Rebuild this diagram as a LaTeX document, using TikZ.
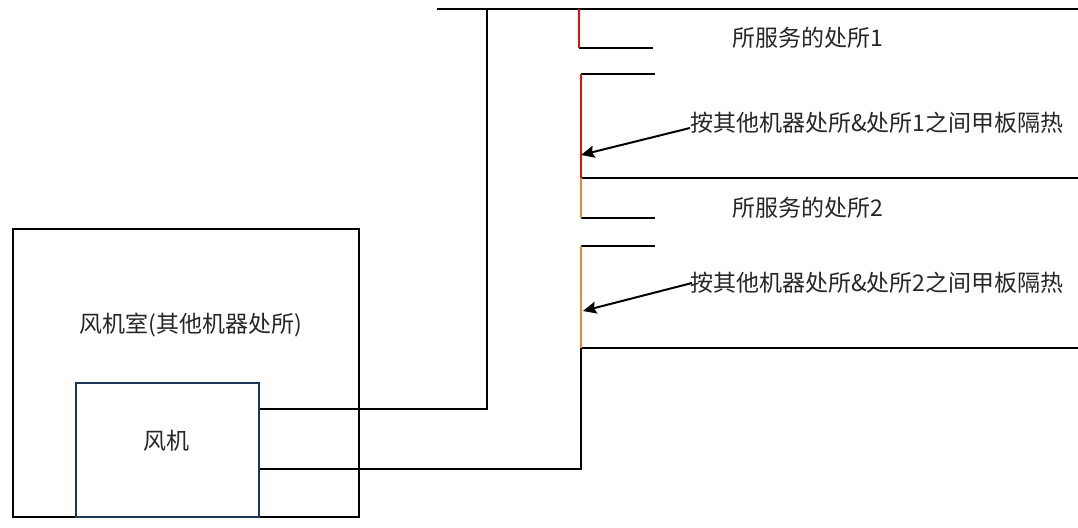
\documentclass[tikz,border=0pt]{standalone}
\usepackage{fontspec}
\setmainfont{Liberation Sans}
\newfontfamily\cjk{Noto Sans CJK SC}
\usetikzlibrary{arrows.meta}
\definecolor{fanblue}{HTML}{1F3557}
\definecolor{redwall}{HTML}{E01010}
\definecolor{orangewall}{HTML}{E08A40}
\newcommand{\lb}[1]{{\fontsize{17.25pt}{19pt}\selectfont #1}}
\tikzset{
  wall/.style={draw=black,line width=1.5pt},
  redseg/.style={draw=redwall,line width=1.5pt},
  orangeseg/.style={draw=orangewall,line width=1.5pt},
  fanbox/.style={draw=fanblue,line width=1.5pt,minimum width=137.25pt,minimum height=100.5pt,inner sep=0pt,fill=white},
  lbl/.style={inner sep=0pt,text=black!85,font=\cjk},
  pointer/.style={draw=black,line width=1.5pt,-{Stealth[length=10pt,width=9pt,inset=1.5pt]}}
}
\begin{document}
\begin{tikzpicture}[x=0.75pt,y=-0.75pt]
\useasboundingbox (0,0) rectangle (1078,528);
% points
\coordinate (topL) at (437,9);
\coordinate (topR) at (1078,9);
\coordinate (d1top) at (487,9);
\coordinate (d1corner) at (487,409);
\coordinate (r1a) at (579,9);
\coordinate (r1b) at (579,48);
\coordinate (r1c) at (653,48);
\coordinate (r2a) at (581,74);
\coordinate (r2c) at (655,74);
\coordinate (r2b) at (581,178);
\coordinate (f1R) at (1078,178);
\coordinate (o1b) at (581,218);
\coordinate (o1c) at (655,218);
\coordinate (o2a) at (581,246);
\coordinate (o2c) at (655,246);
\coordinate (o2b) at (581,348);
\coordinate (f2R) at (1078,348);
\coordinate (d2corner) at (581,469);
\coordinate (roomTL) at (13,229);
\coordinate (roomTR) at (359,229);
\coordinate (roomBR) at (359,517);
\coordinate (roomBL) at (13,517);
\coordinate (arr1) at (581,155);
\coordinate (arr1s) at (690,128);
\coordinate (arr2) at (583,311);
\coordinate (arr2s) at (692,283);
% room
\draw[wall] (roomBL) -- (roomTL) -- (roomTR) -- (roomBR) -- cycle;
% decks
\draw[wall] (topL) -- (topR);
\draw[wall] (r1b) -- (r1c);
\draw[wall] (r2a) -- (r2c);
\draw[wall] (r2b) -- (f1R);
\draw[wall] (o1b) -- (o1c);
\draw[wall] (o2a) -- (o2c);
\draw[wall] (o2b) -- (f2R);
% fan
\node[fanbox] (fan) at (167.5,450) {};
\node[lbl] (fanlabel) at (166,441) {\lb{风机}};
% ducts
\draw[wall] (fan.east |- d1corner) -- (d1corner) -- (d1top);
\draw[wall] (fan.east |- d2corner) -- (d2corner) -- (o2b);
% coloured segments
\draw[redseg] (r1a) -- (r1b);
\draw[redseg] (r2a) -- (r2b);
\draw[orangeseg] (r2b) -- (o1b);
\draw[orangeseg] (o2a) -- (o2b);
% labels
\node[lbl] (room) at (191,325) {\lb{风机室(其他机器处所)}};
\node[lbl] (sp1) at (808,38) {\lb{所服务的处所1}};
\node[lbl] (sp2) at (808,208) {\lb{所服务的处所2}};
\node[lbl,anchor=west] (ins1) at (690,123) {\lb{按其他机器处所\&处所1之间甲板隔热}};
\node[lbl,anchor=west] (ins2) at (690,283) {\lb{按其他机器处所\&处所2之间甲板隔热}};
% arrows
\draw[pointer] (arr1s) -- (arr1);
\draw[pointer] (arr2s) -- (arr2);
\end{tikzpicture}
\end{document}
